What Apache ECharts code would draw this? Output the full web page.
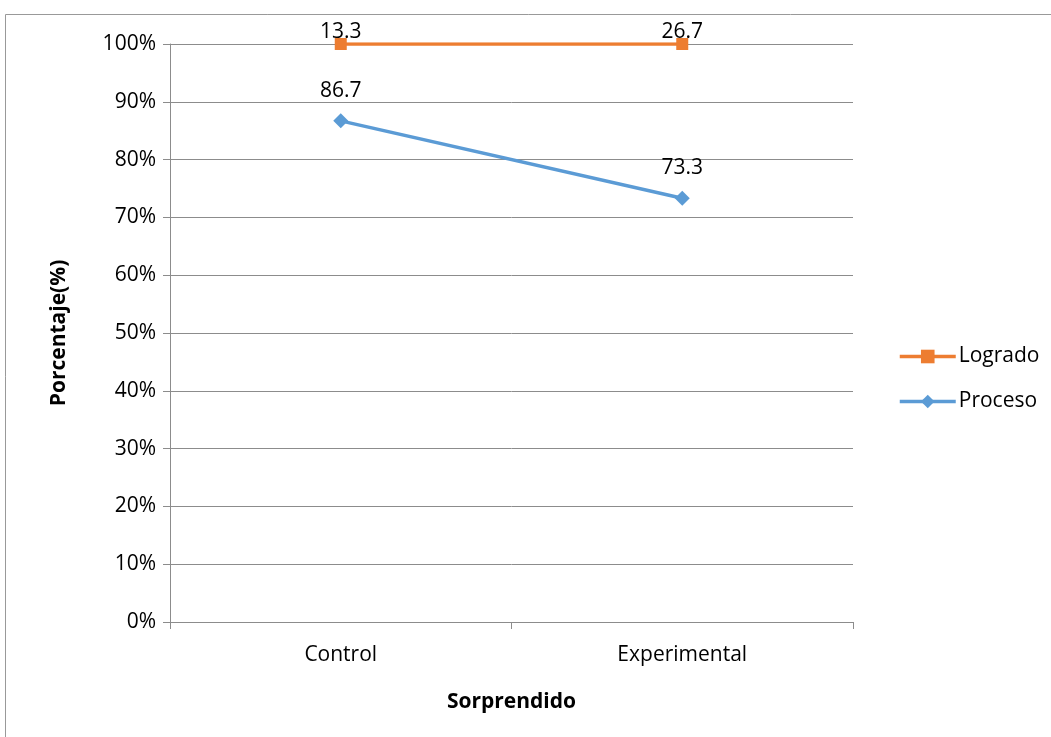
<!DOCTYPE html>
<html>
<head>
<meta charset="utf-8">
<script src="https://cdn.jsdelivr.net/npm/echarts@6/dist/echarts.min.js"></script>
<style>
  html, body { margin: 0; padding: 0; background: #fff; }
  #chart { width: 1051px; height: 737px; }
</style>
</head>
<body>
<div id="chart"></div>
<script>
  // chart data
  const categories = ['Control', 'Experimental'];
  const proceso = [86.7, 73.3];
  const logrado = [13.3, 26.7];
  const yTicks = [0, 10, 20, 30, 40, 50, 60, 70, 80, 90, 100];

  const font = '"Open Sans", "Noto Sans", sans-serif';
  const axisGray = '#8c8c8c';

  let chart = echarts.init(document.getElementById('chart'));
  chart.setOption({
    animation: false,
    textStyle: { fontFamily: font },
    graphic: [{
      type: 'rect',
      shape: { x: 5.5, y: 14.5, width: 1100, height: 800 },
      style: { fill: 'none', stroke: '#999', lineWidth: 1 },
      silent: true
    }],
    grid: { left: 170, right: 198, top: 44, bottom: 115 },
    legend: {
      orient: 'vertical',
      left: 893,
      top: 341,
      itemGap: 24,
      itemWidth: 56,
      itemHeight: 17,
      data: ['Logrado', 'Proceso'],
      lineStyle: { width: 3.5 },
      textStyle: { fontSize: 21, color: '#000', fontFamily: font, padding: [0, 0, 0, -2] }
    },
    xAxis: {
      type: 'category',
      data: categories,
      boundaryGap: true,
      name: 'Sorprendido',
      nameLocation: 'middle',
      nameGap: 70,
      nameTextStyle: { fontSize: 21, fontWeight: 'bold', color: '#000' },
      axisLine: { lineStyle: { color: axisGray, width: 1 } },
      axisTick: { show: true, length: 7, lineStyle: { color: axisGray } },
      axisLabel: { fontSize: 21, color: '#000', margin: 23 }
    },
    yAxis: {
      type: 'value',
      min: yTicks[0],
      max: yTicks[yTicks.length - 1],
      interval: 10,
      name: 'Porcentaje(%)',
      nameLocation: 'middle',
      nameGap: 100,
      nameTextStyle: { fontSize: 21, fontWeight: 'bold', color: '#000' },
      axisLine: { show: true, lineStyle: { color: axisGray, width: 1 } },
      axisTick: { show: true, length: 7, lineStyle: { color: axisGray } },
      axisLabel: { fontSize: 21, color: '#000', margin: 14, formatter: '{value}%' },
      splitLine: { lineStyle: { color: axisGray, width: 1 } }
    },
    series: [
      {
        name: 'Proceso',
        type: 'line',
        stack: 'total',
        data: proceso,
        symbol: 'diamond',
        symbolSize: 15,
        color: '#5B9BD5',
        lineStyle: { width: 3.5, color: '#5B9BD5' },
        label: {
          show: true,
          position: 'top',
          distance: 12,
          fontSize: 21,
          color: '#000'
        }
      },
      {
        name: 'Logrado',
        type: 'line',
        stack: 'total',
        data: logrado,
        symbol: 'rect',
        symbolSize: 12,
        color: '#ED7D31',
        lineStyle: { width: 3.5, color: '#ED7D31' },
        label: {
          show: true,
          position: 'top',
          distance: -5,
          fontSize: 21,
          color: '#000'
        }
      }
    ]
  });
</script>
</body>
</html>
